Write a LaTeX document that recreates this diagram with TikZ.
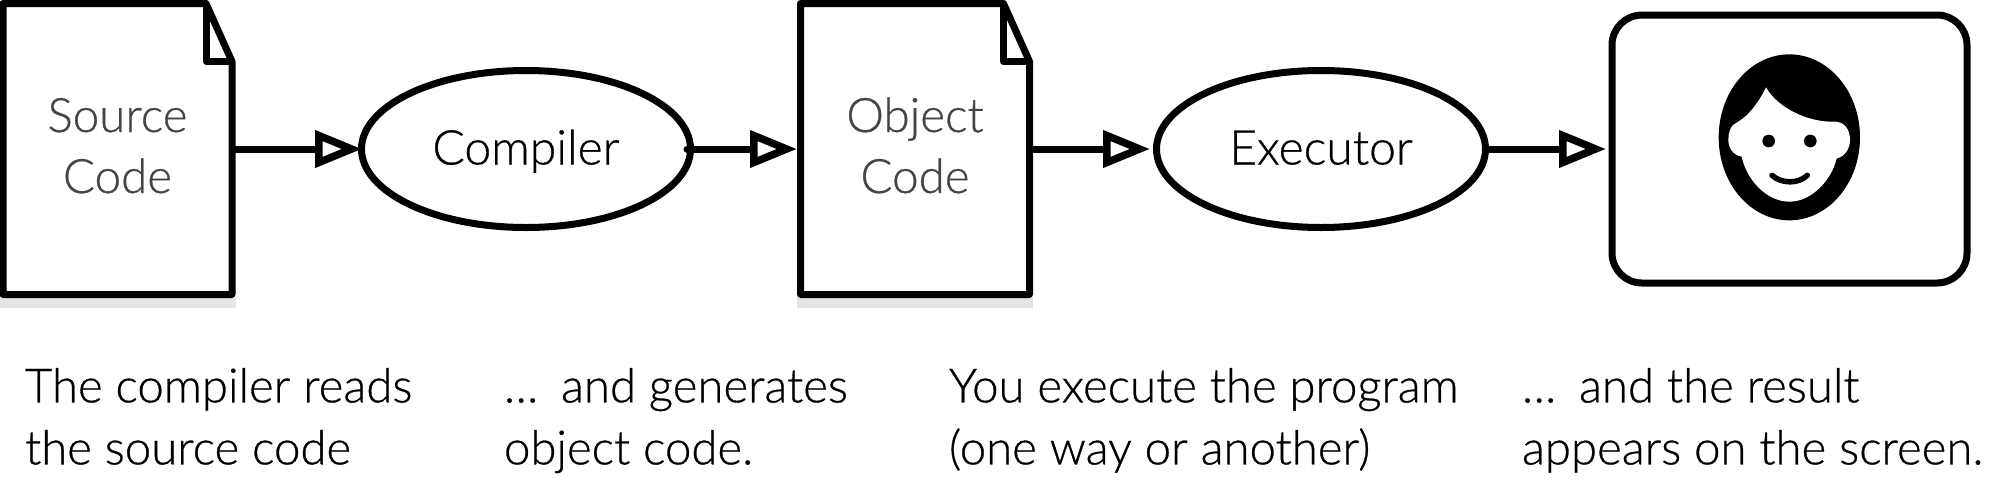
\documentclass[tikz,border=0pt]{standalone}
\usepackage{fontspec}
\setmainfont{Lato Light}[RawFeature={embolden=0.6}]
\usetikzlibrary{arrows.meta,calc,shapes.geometric}
\definecolor{doctext}{HTML}{444444}
\definecolor{shadowgrey}{HTML}{E4E4E4}
\newcommand{\firststrut}{\rule{0pt}{38pt}}
\newcommand{\laststrut}{\rule[-11pt]{0pt}{11pt}}
\tikzset{
  x=1pt,y=-1pt,
  stroke/.style={line width=7pt,draw=black},
  docbox/.style={rectangle,inner sep=0pt,outer sep=0pt,minimum width=229pt,minimum height=291pt,text=doctext,align=center,font=\fontsize{47.5}{61}\selectfont},
  docline/.style={stroke,line join=round},
  procnode/.style={ellipse,stroke,inner sep=0pt,minimum width=329pt,minimum height=157pt,fill=white,text height=38pt,text depth=7pt,font=\fontsize{48}{53}\selectfont},
  screenbox/.style={rectangle,stroke,rounded corners=30pt,inner sep=0pt,minimum width=355pt,minimum height=268pt},
  caption/.style={anchor=north west,inner sep=0pt,outer sep=0pt,align=left,font=\fontsize{47.3}{62}\selectfont},
  flow/.style={stroke,-{Triangle[open,length=47pt,width=36pt,line width=7.5pt]}},
}
\begin{document}
\begin{tikzpicture}
\useasboundingbox (0,0) rectangle (2000,499);
\fill[shadowgrey] (0,298) rectangle (236,308);
\fill[shadowgrey] (797,298) rectangle (1033,308);

\node[docbox] (src) at (117.5,149) {\firststrut Source\\Code\laststrut};
\node[docbox] (obj) at (915,149) {\firststrut Object\\Code\laststrut};
\node[procnode] (comp) at (526,149) {Compiler};
\node[procnode] (exec) at (1321,149) {Executor};
\node[screenbox] (screen) at (1789.5,149) {};

\foreach \d/\f in {src/26,obj/26}{
  \draw[docline] (\d.north west) -- ($(\d.north east)+(-\f,0)$) -- ($(\d.north east)+(0,58)$) -- (\d.south east) -- (\d.south west) -- cycle;
  \draw[docline] ($(\d.north east)+(-\f,0)$) -- ($(\d.north east)+(-\f,58)$) -- ($(\d.north east)+(0,58)$);
}

\draw[flow,shorten >=-4pt] (src.east) -- (comp.west);
\draw[flow,line cap=round,shorten <=-7pt,shorten >=3.5pt] (comp.east) -- (obj.west);
\draw[flow,shorten >=3pt] (obj.east) -- (exec.west);
\draw[flow,shorten >=2.5pt] (exec.east) -- (screen.west);

\begin{scope}[shift={(1560,0)},x=0.33333pt,y=-0.33333pt]
  \fill[black] (688,412) ellipse [x radius=212,y radius=249];
  \fill[white] (618,262) .. controls (600,300) and (570,345) .. (530,368)
     .. controls (510,375) and (505,400) .. (505,420)
     .. controls (505,445) and (520,465) .. (545,470)
     .. controls (560,540) and (620,605) .. (688,605)
     .. controls (755,605) and (815,540) .. (830,475)
     .. controls (855,470) and (870,445) .. (870,420)
     .. controls (870,390) and (855,366) .. (825,365)
     .. controls (740,368) and (650,320) .. (618,262) -- cycle;
  \fill[black] (626,423) circle [radius=19];
  \fill[black] (751,423) circle [radius=19];
  \draw[black,line width=5.5pt,line cap=round] (636,526) .. controls (665,552) and (715,552) .. (742,526);
\end{scope}

\node[caption] (c1) at (25,368) {The compiler reads\\the source code};
\node[caption] (c2) at (504,368) {…\hspace{10pt} and generates\\object code.};
\node[caption] (c3) at (949,368) {You execute the program\\(one way or another)};
\node[caption] (c4) at (1522,368) {…\hspace{10pt} and the result\\appears on the screen.};
\end{tikzpicture}
\end{document}
